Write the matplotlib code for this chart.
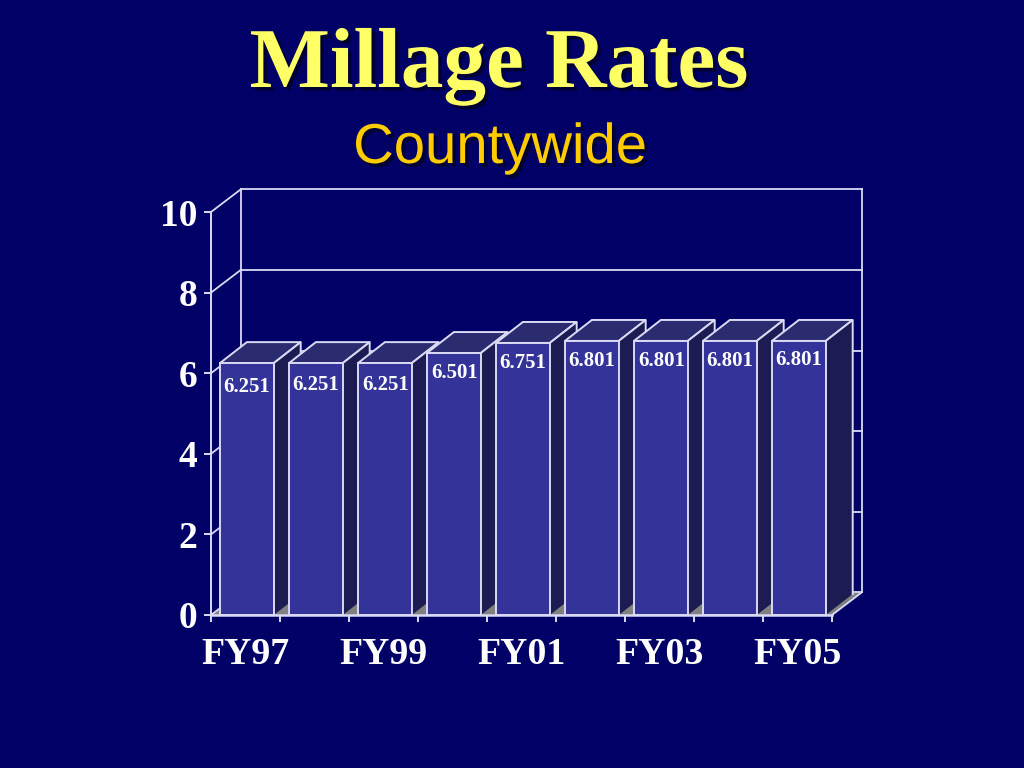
import matplotlib
matplotlib.use('Agg')
import matplotlib.pyplot as plt
import matplotlib.patheffects as pe
from matplotlib.patches import Polygon

# Chart data
years = ['FY97', 'FY98', 'FY99', 'FY00', 'FY01', 'FY02', 'FY03', 'FY04', 'FY05']
rates = [6.251, 6.251, 6.251, 6.501, 6.751, 6.801, 6.801, 6.801, 6.801]
y_ticks = [0, 2, 4, 6, 8, 10]
shown_years = ['FY97', 'FY99', 'FY01', 'FY03', 'FY05']

# Hand placed label nudges in points (the labels sit unevenly in the original)
label_dx = [0, 0, 1, 1, 0, 0, 1, 0, 0]
label_dy = [-17.5, -15.5, -15.5, -14.5, -14.5, -14.5, -14.5, -14.5, -13.5]

# Colours
bg = '#000066'
line = '#DADAF5'
front = '#333399'
top = '#2B2B70'
side = '#1C1C52'
floor = '#808080'

# Fake 3D depth, in data units
wall_dx, wall_dy = 0.43, 0.56
bar_dx, bar_dy = 0.39, 0.52
bar_w = 0.78
bar_shift = 0.52

fig = plt.figure(figsize=(10.24, 7.68), dpi=100, facecolor=bg)
ax = fig.add_axes([211 / 1024, (768 - 615) / 768, (832 - 211) / 1024, (615 - 212) / 768])
ax.set_facecolor('none')
ax.set_xlim(0, len(years))
ax.set_ylim(0, 10)

# Floor and back wall
n = len(years)
ax.add_patch(Polygon([(0, 0), (wall_dx, wall_dy), (n + wall_dx, wall_dy), (n, 0)],
                     fc=floor, ec='none', clip_on=False, zorder=1))
for v in y_ticks:
    ax.plot([wall_dx, n + wall_dx], [v + wall_dy, v + wall_dy], color=line, lw=1.3, clip_on=False, zorder=1)
    ax.plot([0, wall_dx], [v, v + wall_dy], color=line, lw=1.3, clip_on=False, zorder=1)
for x in [wall_dx, n + wall_dx]:
    ax.plot([x, x], [wall_dy, 10 + wall_dy], color=line, lw=1.3, clip_on=False, zorder=1)
ax.plot([n, n + wall_dx], [0, wall_dy], color=line, lw=1.3, clip_on=False, zorder=1)

# Bars, left to right so each one covers the side of the one before
for i, v in enumerate(rates):
    x0 = i + bar_shift - bar_w / 2
    x1 = x0 + bar_w
    z = 2 + i
    ax.bar(i + bar_shift, v, width=bar_w, color=front, edgecolor=line, linewidth=1.4, zorder=z + 0.2)
    ax.add_patch(Polygon([(x0, v), (x0 + bar_dx, v + bar_dy), (x1 + bar_dx, v + bar_dy), (x1, v)],
                         fc=top, ec=line, lw=1.4, clip_on=False, zorder=z))
    ax.add_patch(Polygon([(x1, 0), (x1 + bar_dx, bar_dy), (x1 + bar_dx, v + bar_dy), (x1, v)],
                         fc=side, ec='none', clip_on=False, zorder=z))
    ax.plot([x1 + bar_dx, x1 + bar_dx, x1], [bar_dy, v + bar_dy, v], color=line, lw=1.4, clip_on=False, zorder=z)
    ax.annotate(f'{v:.3f}', (i + 0.51, v), xytext=(label_dx[i], label_dy[i]), textcoords='offset points',
                ha='center', va='center', color='white', fontsize=15, fontweight='bold',
                family='Liberation Serif', zorder=z + 0.5)

# Axes
for s in ['top', 'right']:
    ax.spines[s].set_visible(False)
ax.spines['left'].set_color(line)
ax.spines['left'].set_linewidth(1.4)
ax.spines['left'].set_zorder(20)
ax.spines['bottom'].set_color(line)
ax.spines['bottom'].set_linewidth(1.8)
ax.spines['bottom'].set_zorder(20)

ax.set_yticks(y_ticks)
ax.set_yticklabels([str(v) for v in y_ticks])
ax.set_xticks(range(n + 1))
ax.set_xticklabels([])
ax.set_xticks([years.index(y) + 0.5 for y in shown_years], labels=shown_years, minor=True)
ax.tick_params(axis='y', colors=line, length=5, width=1.4, pad=5, labelcolor='white', labelsize=27)
ax.tick_params(axis='x', which='major', colors=line, length=5, width=1.4)
ax.tick_params(axis='x', which='minor', length=0, pad=16, labelcolor='white', labelsize=27.3)
for lab in ax.get_yticklabels() + ax.get_xticklabels(minor=True):
    lab.set_family('Liberation Serif')
    lab.set_fontweight('bold')

# Titles
shadow = [pe.withSimplePatchShadow(offset=(2.5, -2.5), shadow_rgbFace='#000033', alpha=1)]
fig.text(499 / 1024, 1 - 87 / 768, 'Millage Rates', ha='center', va='baseline', color='#FFFF66',
         fontsize=61.3, fontweight='bold', family='Liberation Serif', path_effects=shadow)
fig.text(500 / 1024, 1 - 163 / 768, 'Countywide', ha='center', va='baseline', color='#FFCC00',
         fontsize=40.5, family='Liberation Sans', path_effects=shadow)

fig.savefig('out.png', dpi=100, facecolor=bg)
